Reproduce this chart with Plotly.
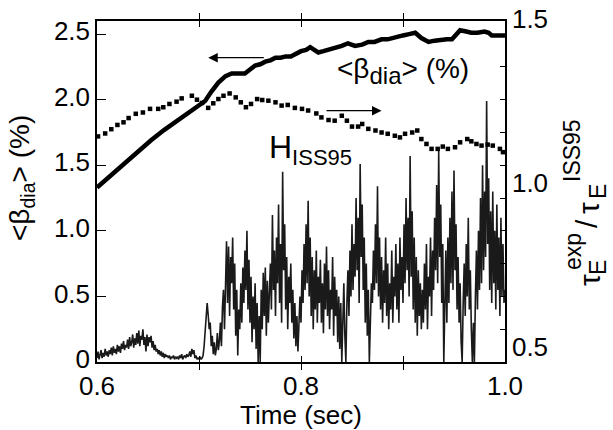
import numpy as np
import plotly.graph_objects as go

# ---------------- data ----------------
beta_t = [0.600, 0.613, 0.627, 0.640, 0.653, 0.666, 0.679, 0.692, 0.706, 0.712,
          0.719, 0.726, 0.732, 0.739, 0.745, 0.750, 0.755, 0.760, 0.765, 0.770,
          0.775, 0.780, 0.785, 0.790, 0.794, 0.800, 0.805, 0.809, 0.813, 0.817,
          0.822, 0.827, 0.833, 0.840, 0.846, 0.853, 0.860, 0.866, 0.872, 0.879,
          0.885, 0.892, 0.896, 0.900, 0.906, 0.912, 0.918, 0.925, 0.931, 0.938,
          0.943, 0.948, 0.952, 0.956, 0.962, 0.967, 0.973, 0.980, 0.984, 0.987,
          0.993, 1.000]
beta_dia = [1.33, 1.42, 1.51, 1.61, 1.69, 1.77, 1.84, 1.91, 1.99, 2.06,
            2.13, 2.18, 2.20, 2.20, 2.20, 2.23, 2.26, 2.27, 2.29, 2.30,
            2.32, 2.32, 2.33, 2.33, 2.35, 2.37, 2.38, 2.40, 2.38, 2.36,
            2.37, 2.38, 2.40, 2.41, 2.43, 2.41, 2.42, 2.44, 2.44, 2.46,
            2.46, 2.47, 2.48, 2.49, 2.50, 2.51, 2.47, 2.44, 2.45, 2.46,
            2.46, 2.46, 2.49, 2.53, 2.52, 2.51, 2.51, 2.52, 2.51, 2.49,
            2.49, 2.49]

h_t = [0.601, 0.608, 0.614, 0.620, 0.626, 0.631, 0.638, 0.645, 0.652, 0.660,
       0.665, 0.671, 0.678, 0.683, 0.693, 0.698, 0.703, 0.709, 0.714, 0.719,
       0.724, 0.730, 0.736, 0.741, 0.746, 0.751, 0.757, 0.762, 0.768, 0.775,
       0.781, 0.787, 0.794, 0.801, 0.807, 0.815, 0.820, 0.827, 0.833, 0.840,
       0.845, 0.850, 0.856, 0.860, 0.866, 0.873, 0.879, 0.885, 0.892, 0.897,
       0.902, 0.909, 0.914, 0.918, 0.923, 0.928, 0.934, 0.939, 0.944, 0.951,
       0.956, 0.963, 0.967, 0.972, 0.977, 0.983, 0.988, 0.995, 0.998]
h_iss95 = [1.188, 1.197, 1.210, 1.223, 1.231, 1.244, 1.257, 1.261, 1.272, 1.272,
           1.277, 1.287, 1.294, 1.304, 1.312, 1.300, 1.290, 1.275, 1.289, 1.302,
           1.312, 1.319, 1.307, 1.292, 1.277, 1.287, 1.302, 1.299, 1.297, 1.292,
           1.282, 1.284, 1.275, 1.272, 1.267, 1.258, 1.246, 1.238, 1.236, 1.251,
           1.236, 1.218, 1.218, 1.226, 1.211, 1.206, 1.200, 1.196, 1.190, 1.185,
           1.196, 1.200, 1.206, 1.180, 1.165, 1.150, 1.150, 1.157, 1.150, 1.155,
           1.170, 1.180, 1.173, 1.165, 1.160, 1.163, 1.160, 1.150, 1.140]

# fluctuating signal (left scale), sampled every 1 ms from 0.600 to 1.000 s
sig_t = np.linspace(0.6, 1.0, 401)
signal = [
    0.03, 0.08, 0.02, 0.06, 0.09, 0.03, 0.07, 0.04, 0.10, 0.05,
    0.08, 0.04, 0.09, 0.06, 0.11, 0.05, 0.12, 0.07, 0.10, 0.06,
    0.13, 0.08, 0.12, 0.07, 0.14, 0.10, 0.16, 0.09, 0.13, 0.11,
    0.17, 0.10, 0.19, 0.12, 0.15, 0.21, 0.11, 0.18, 0.13, 0.22,
    0.14, 0.24, 0.12, 0.20, 0.17, 0.25, 0.13, 0.19, 0.08, 0.21,
    0.12, 0.19, 0.15, 0.20, 0.11, 0.16, 0.09, 0.13, 0.08, 0.10,
    0.06, 0.09, 0.05, 0.08, 0.04, 0.07, 0.03, 0.06, 0.04, 0.05,
    0.03, 0.05, 0.02, 0.04, 0.03, 0.05, 0.02, 0.04, 0.03, 0.04,
    0.02, 0.05, 0.03, 0.06, 0.02, 0.04, 0.05, 0.03, 0.06, 0.04,
    0.05, 0.08, 0.04, 0.10, 0.06, 0.09, 0.03, 0.05, 0.02, 0.03,
    0.02, 0.04, 0.02, 0.03, 0.05, 0.12, 0.25, 0.38, 0.45, 0.36,
    0.25, 0.30, 0.12, 0.20, 0.06, 0.15, 0.05, 0.10, 0.22, 0.09,
    0.16, 0.30, 0.12, 0.42, 0.55, 0.25, 0.68, 0.92, 0.45, 0.88,
    0.35, 0.80, 0.60, 0.95, 0.40, 0.75, 0.20, 0.55, 0.05, 0.40,
    0.25, 0.60, 0.30, 0.72, 0.45, 0.85, 0.55, 1.00, 0.40, 0.78,
    0.30, 0.65, 0.15, 0.50, 0.25, 0.60, 0.10, 0.45, 0.00, 0.35,
    0.00, 0.55, 0.25, 0.68, 0.35, 0.72, 0.20, 0.62, 0.30, 0.50,
    0.75, 0.40, 1.12, 0.55, 0.85, 0.35, 0.95, 0.60, 1.20, 0.45,
    0.90, 0.30, 1.45, 0.70, 1.05, 0.40, 0.80, 0.25, 0.65, 0.45,
    0.75, 0.30, 0.55, 0.18, 0.45, 0.12, 0.35, 0.08, 0.25, 0.50,
    0.30, 0.70, 0.45, 0.90, 0.55, 1.05, 0.60, 1.23, 0.50, 0.95,
    0.35, 0.80, 0.25, 0.70, 0.40, 0.85, 0.30, 0.65, 0.45, 0.78,
    0.30, 0.60, 0.22, 0.75, 0.40, 0.88, 0.35, 0.70, 0.25, 0.55,
    0.40, 0.80, 0.20, 0.65, 0.35, 0.55, 0.15, 0.50, 0.10, 0.45,
    0.00, 0.35, 0.60, 0.20, 0.00, 0.45, 0.70, 0.35, 0.85, 0.50,
    1.05, 0.55, 0.90, 0.65, 1.25, 0.70, 1.10, 0.45, 1.51, 0.80,
    1.20, 0.55, 0.95, 0.30, 0.75, 0.20, 0.55, 0.00, 0.35, 0.60,
    0.45, 0.85, 0.55, 1.05, 0.60, 1.34, 0.50, 0.95, 0.40, 0.80,
    0.30, 0.70, 0.45, 0.95, 0.35, 0.75, 0.25, 0.60, 0.40, 0.85,
    0.30, 0.65, 0.50, 0.90, 0.40, 0.75, 0.30, 0.95, 0.55, 0.80,
    0.45, 1.05, 0.60, 1.25, 0.70, 1.10, 0.50, 1.57, 0.65, 1.15,
    0.40, 0.95, 0.30, 0.80, 0.20, 0.70, 0.35, 0.60, 0.25, 0.55,
    0.30, 0.75, 0.40, 0.90, 0.25, 0.65, 0.50, 0.95, 0.35, 0.85,
    0.55, 1.10, 0.70, 1.35, 0.60, 1.61, 0.80, 1.20, 0.45, 0.90,
    0.00, 0.50, 0.85, 0.30, 0.95, 0.45, 1.10, 0.60, 1.30, 0.55,
    1.46, 0.70, 1.05, 0.40, 0.80, 0.30, 0.60, 0.15, 0.00, 0.45,
    0.75, 0.35, 0.90, 0.50, 1.10, 0.40, 0.70, 0.25, 0.00, 0.30,
    0.00, 0.50, 0.85, 0.40, 1.00, 0.55, 1.25, 0.60, 1.50, 0.70,
    1.30, 0.80, 1.99, 0.90, 1.40, 0.55, 1.15, 0.45, 1.30, 0.60,
    1.00, 0.40, 1.20, 0.55, 0.95, 0.35, 1.10, 0.50, 0.90, 0.45,
    0.55,
]

x_tickvals = [0.6, 0.7, 0.8, 0.9, 1.0]
x_ticktext = ["0.6", "", "0.8", "", "1.0"]
y_tickvals = [0, 0.5, 1.0, 1.5, 2.0, 2.5]
y_ticktext = ["0", "0.5", "1.0", "1.5", "2.0", "2.5"]
y2_tickvals = [0.5, 0.6, 0.7, 0.8, 0.9, 1.0, 1.1, 1.2, 1.3, 1.4, 1.5]
y2_ticktext = ["0.5", "", "", "", "", "1.0", "", "", "", "", "1.5"]

# ---------------- figure ----------------
W, H = 613, 430
ML, MR, MT, MB = 97, 108, 21, 68
PW, PH = W - ML - MR, H - MT - MB
FONT = "Liberation Sans, Arial, Helvetica, sans-serif"


def px(xp):
    return (xp - ML) / PW


def py(yp):
    return (H - MB - yp) / PH


fig = go.Figure()
fig.add_trace(go.Scatter(x=sig_t, y=signal, mode="lines",
                         line=dict(color="#1a1a1a", width=1.6), yaxis="y"))
fig.add_trace(go.Scatter(x=beta_t, y=beta_dia, mode="lines",
                         line=dict(color="black", width=4.5), yaxis="y"))
fig.add_trace(go.Scatter(x=h_t, y=h_iss95, mode="markers",
                         marker=dict(symbol="square", size=4.5, color="black"),
                         yaxis="y2"))

axis_common = dict(showline=True, linecolor="black", linewidth=1.5,
                   ticks="inside", tickcolor="black", showgrid=False,
                   zeroline=False, tickfont=dict(family=FONT, size=26, color="black"))

fig.update_layout(
    width=W, height=H,
    margin=dict(l=ML, r=MR, t=MT, b=MB, autoexpand=False),
    paper_bgcolor="white", plot_bgcolor="white",
    showlegend=False,
    font=dict(family=FONT, color="black"),
    xaxis=dict(range=[0.6, 1.0], tickvals=x_tickvals, ticktext=x_ticktext,
               mirror="allticks", ticklen=6, tickwidth=1.2,
               title=dict(text="Time (sec)", font=dict(family=FONT, size=26), standoff=0),
               **axis_common),
    yaxis=dict(range=[0, 2.6], tickvals=y_tickvals, ticktext=y_ticktext,
               ticklen=9, tickwidth=1.2, ticklabelshift=-3, **axis_common),
    yaxis2=dict(range=[0.5, 1.54], overlaying="y", side="right",
                tickvals=y2_tickvals, ticktext=y2_ticktext,
                ticklen=5, tickwidth=1.2, ticklabelshift=-15, **axis_common),
)

S = 23  # sub/superscript size of right title
F = 30  # main size of right title
annos = [
    dict(text="&lt;β<sub>dia</sub>&gt; (%)", textangle=-90, xref="paper", yref="paper",
         x=px(21), y=py(178), font=dict(size=28)),
    # right title, built from pieces so that sub/superscripts are stacked
    dict(text="τ", textangle=-90, xref="paper", yref="paper",
         x=px(589), y=py(280), font=dict(size=F)),
    dict(text="E", textangle=-90, xref="paper", yref="paper",
         x=px(598), y=py(268), font=dict(size=S)),
    dict(text="exp", textangle=-90, xref="paper", yref="paper",
         x=px(573), y=py(252), font=dict(size=S)),
    dict(text="/", textangle=-90, xref="paper", yref="paper",
         x=px(586), y=py(224), font=dict(size=F)),
    dict(text="τ", textangle=-90, xref="paper", yref="paper",
         x=px(589), y=py(208), font=dict(size=F)),
    dict(text="E", textangle=-90, xref="paper", yref="paper",
         x=px(598), y=py(192), font=dict(size=S)),
    dict(text="ISS95", textangle=-90, xref="paper", yref="paper",
         x=px(572), y=py(151), font=dict(size=S)),
    # in-plot labels
    dict(text="&lt;β<sub><span style='font-size:24px'>dia</span></sub>&gt; (%)",
         xref="x", yref="y", x=0.9, y=2.22, font=dict(size=28)),
    dict(text="H<sub><span style='font-size:22px'>ISS95</span></sub>",
         xref="x", yref="y", x=0.809, y=1.62, font=dict(size=32)),
]
for a in annos:
    a["font"] = dict(family=FONT, color="black", **a["font"])
    fig.add_annotation(showarrow=False, xanchor="center", yanchor="middle",
                       borderpad=0, **a)

# arrows
arrows = [dict(x=0.709, y=2.32, ax=0.765, ay=2.32),
          dict(x=0.879, y=1.916, ax=0.8235, ay=1.916)]
for a in arrows:
    fig.add_annotation(text="", xref="x", yref="y", axref="x", ayref="y",
                       showarrow=True, arrowhead=2, arrowsize=1.6, arrowwidth=1.2,
                       arrowcolor="black", **a)

fig.write_html("out.html", config={"displayModeBar": False},
               post_script="document.body.style.margin='0';")
